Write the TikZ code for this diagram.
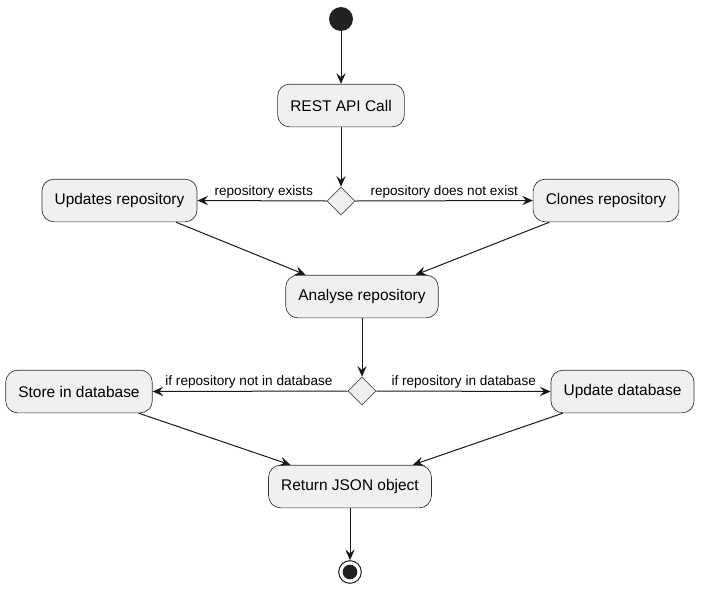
\documentclass[tikz,border=0pt]{standalone}
\usepackage{fontspec}
\setmainfont{Liberation Sans}
\usepackage{tikz}
\usetikzlibrary{arrows.meta}
\usetikzlibrary{shapes.geometric}
\usetikzlibrary{positioning}

\begin{document}
\begin{tikzpicture}[x=0.75pt,y=-0.75pt,
		action/.style={
			draw=black!80,
			fill=black!6,
			rounded corners=9pt,
			minimum height=32pt,
			inner xsep=9.5pt,
			line width=0.5pt,
			font=\fontsize{11.6}{13}\selectfont,
		},
		branch/.style={draw=black!70, fill=black!6, diamond, minimum width=21pt, minimum height=21pt, inner sep=0pt, line width=0.5pt},
		flow/.style={-{Stealth[length=8pt,width=7pt,inset=3pt]}, line width=0.75pt, draw=black!90},
		guard/.style={font=\fontsize{10.2}{11}\selectfont, inner sep=2pt}]
		\useasboundingbox (0,0) rectangle (701,590);
		
		\node[circle, fill=black!87, minimum size=18pt, inner sep=0pt] (start) at (341,19) {};
		\node[action] (api) at (341,105.5) {REST API Call};
		\node[branch] (exists) at (341,201) {};
		\node[action] (upd) at (119.5,200.5) {Updates repository};
		\node[action] (cln) at (606,200.5) {Clones repository};
		\node[action] (ana) at (362,296.5) {Analyse repository};
		\node[branch] (indb) at (362,391) {};
		\node[action] (sto) at (79,391.5) {Store in database};
		\node[action] (udb) at (622.5,391.5) {Update database};
		\node[action] (jsn) at (350,486.5) {Return JSON object};
		\node[circle, draw=black!90, line width=0.75pt, minimum size=17pt, inner sep=0pt] (stop) at (350,572) {};
		\node[circle, fill=black!87, minimum size=11pt, inner sep=0pt] (stopdot) at (stop) {};
		
		\draw[flow] (start) -- (api);
		\draw[flow] (api) -- (exists);
		\draw[flow] (exists.west) -- node[guard, above left, at start, xshift=-8pt]{repository exists} (upd.east);
		\draw[flow] (exists.east) -- node[guard, above right, at start, xshift=9pt]{repository does not exist} (cln.west);
		\draw[flow] (upd.-21) -- (ana.159);
		\draw[flow] (cln.201) -- (ana.22);
		
		\draw[flow] (ana) -- (indb);
		\draw[flow] (indb.west) -- node[guard, above left, at start, xshift=-9pt]{if repository not in database} (sto.east);
		\draw[flow] (indb.east) -- node[guard, above right, at start, xshift=9pt]{if repository in database} (udb.west);
		\draw[flow] (sto.-20) -- (jsn.160);
		\draw[flow] (udb.200) -- (jsn.19);
		
		\draw[flow] (jsn) -- (stop);
	\end{tikzpicture}
\end{document}
